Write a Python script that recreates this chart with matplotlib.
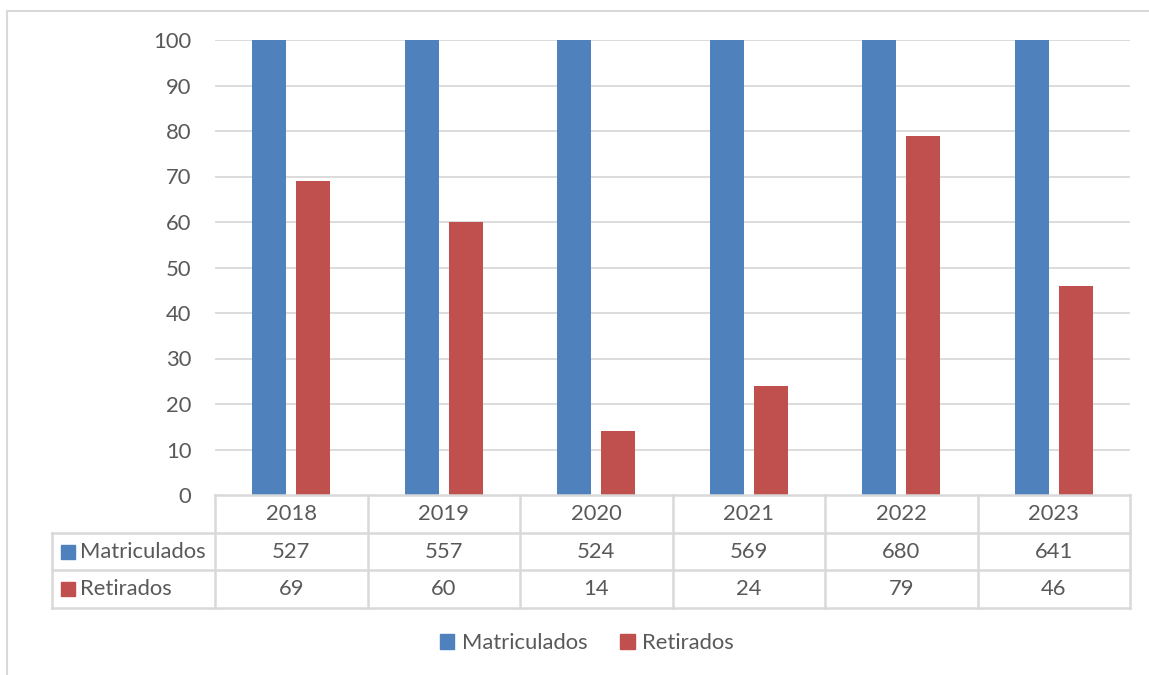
import matplotlib
matplotlib.use("Agg")
import matplotlib.pyplot as plt
from matplotlib.patches import Patch
import numpy as np

years = ["2018", "2019", "2020", "2021", "2022", "2023"]
matriculados = [527, 557, 524, 569, 680, 641]
retirados = [69, 60, 14, 24, 79, 46]
series_names = ["Matriculados", "Retirados"]
colors = ["#4F81BD", "#C0504D"]
yticks = [0, 10, 20, 30, 40, 50, 60, 70, 80, 90, 100]

W, H = 1149, 675
plt.rcParams['font.family'] = ['Lato', 'DejaVu Sans']
txt = "#595959"
gridc = "#D9D9D9"
fs = 15.8

fig = plt.figure(figsize=(W / 100, H / 100), dpi=100)

def rect(x0, y0, x1, y1):
    return [x0 / W, 1 - y1 / H, (x1 - x0) / W, (y1 - y0) / H]

# outer border
fig.add_artist(plt.Line2D([7 / W, 7 / W], [0, 1 - 11 / H], color=gridc, lw=1.5))
fig.add_artist(plt.Line2D([7 / W, 1], [1 - 11 / H, 1 - 11 / H], color=gridc, lw=1.5))

# main plot
ax = fig.add_axes(rect(215, 40, 1130, 495))
x = np.arange(len(years))
bw = 0.223
off = 0.144
ax.bar(x - off, matriculados, bw, color=colors[0], zorder=3)
ax.bar(x + off, retirados, bw, color=colors[1], zorder=3)
ax.set_xlim(-0.5, len(years) - 0.5)
ax.set_ylim(0, 100)
ax.set_yticks(yticks)
ax.set_yticklabels([str(v) for v in yticks], fontsize=fs, color=txt)
ax.set_xticks([])
ax.tick_params(axis='y', length=0, pad=17)
for s in ax.spines.values():
    s.set_visible(False)
for v in yticks[1:]:
    ax.axhline(v, color=gridc, lw=1.3, zorder=1)

# data table
tx0 = -0.5 - (215 - 52) / (915 / 6)
tab = fig.add_axes(rect(52, 495, 1130, 608))
tab.set_xlim(tx0, len(years) - 0.5)
tab.set_ylim(0, 3)
tab.axis('off')
lc = dict(color=gridc, lw=1.8, clip_on=False)
tab.plot([-0.5, len(years) - 0.5], [3, 3], **lc)
for yy in [2, 1, 0]:
    tab.plot([tx0, len(years) - 0.5], [yy, yy], **lc)
for k in range(len(years) + 1):
    tab.plot([k - 0.5, k - 0.5], [0, 3], **lc)
tab.plot([tx0, tx0], [0, 2], **lc)
for i, yr in enumerate(years):
    tab.text(i, 2.5, yr, ha='center', va='center', fontsize=fs, color=txt)
    tab.text(i, 1.5, str(matriculados[i]), ha='center', va='center', fontsize=fs, color=txt)
    tab.text(i, 0.5, str(retirados[i]), ha='center', va='center', fontsize=fs, color=txt)
pxu = 915 / 6
for r, (name, c) in enumerate(zip(series_names, colors)):
    yy = 1.5 - r
    tab.plot([tx0 + 15.5 / pxu], [yy], marker='s', markersize=9.4, color=c, clip_on=False, lw=0)
    tab.text(tx0 + 28 / pxu, yy, name, ha='left', va='center', fontsize=fs, color=txt)

# legend
handles = [Patch(color=c, label=n) for n, c in zip(series_names, colors)]
fig.legend(handles=handles, loc='center', bbox_to_anchor=(587 / W, 1 - 643 / H), ncol=2,
           frameon=False, fontsize=fs, labelcolor=txt, handlelength=0.65, handleheight=0.65,
           handletextpad=0.35, columnspacing=1.5)

fig.savefig("out.png", dpi=100)
